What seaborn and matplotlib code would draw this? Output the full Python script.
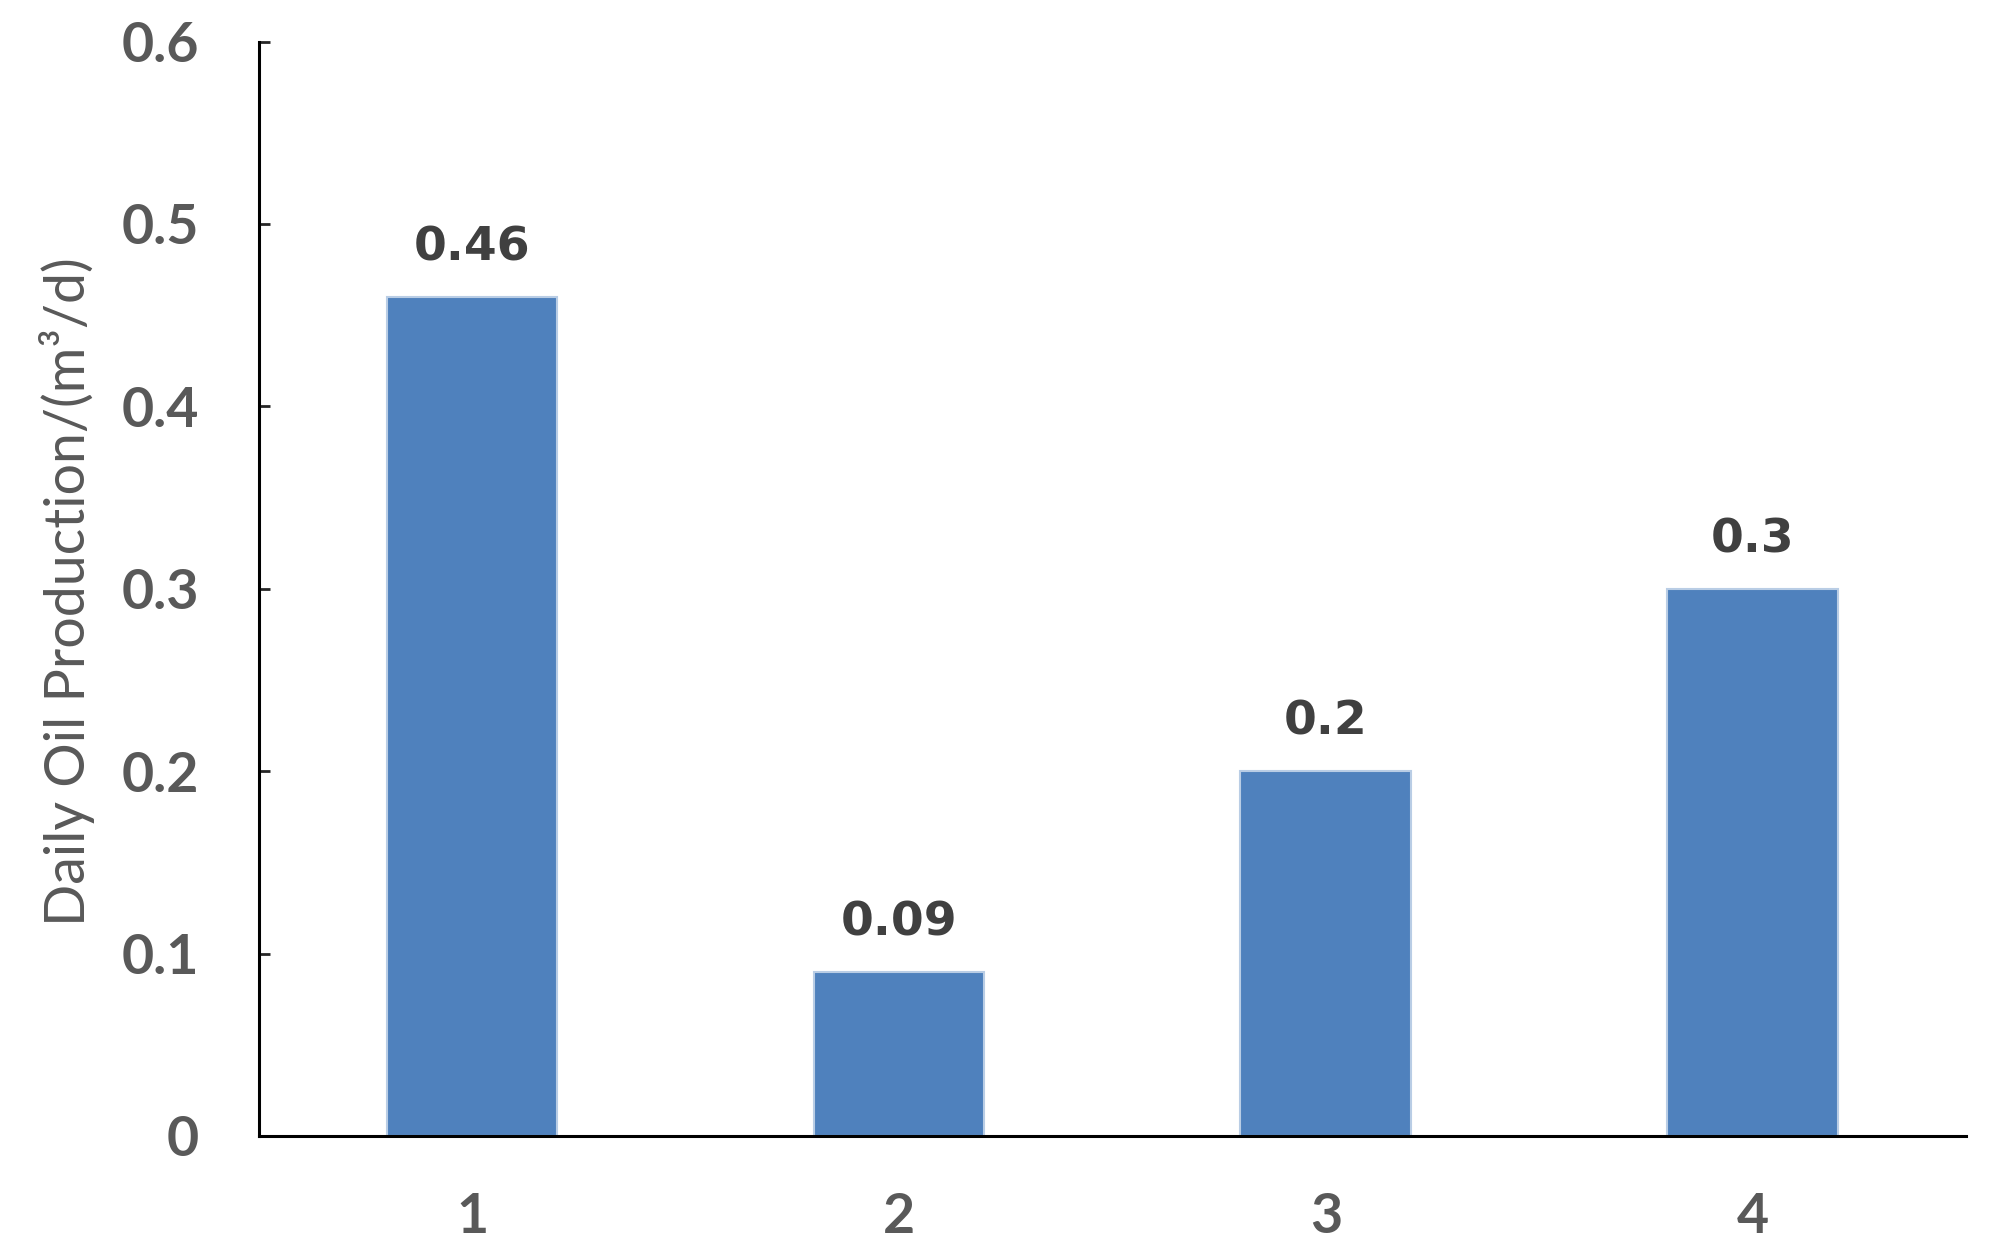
import pandas as pd
import matplotlib.pyplot as plt
import seaborn as sns

# дані з графіка
categories = ['1', '2', '3', '4']
oil_production = [0.46, 0.09, 0.2, 0.3]
value_labels = ['0.46', '0.09', '0.2', '0.3']
y_ticks = [0, 0.1, 0.2, 0.3, 0.4, 0.5, 0.6]
y_tick_labels = ['0', '0.1', '0.2', '0.3', '0.4', '0.5', '0.6']

df = pd.DataFrame({'case': categories, 'oil': oil_production})

sns.set_style('white')
plt.rcParams['font.family'] = ['Lato', 'DejaVu Sans']

fig, ax = plt.subplots(figsize=(19.9, 12.58), dpi=100)
fig.subplots_adjust(left=0.130, right=0.988, bottom=0.097, top=0.967)

sns.barplot(data=df, x='case', y='oil', color='#4F81BD', saturation=1,
            width=0.4, edgecolor='#B9CDE5', linewidth=1.5, ax=ax)

ax.bar_label(ax.containers[0], labels=value_labels, padding=19,
             fontsize=34, fontweight='bold', color='#404040',
             family=['DejaVu Sans'])

ax.set_xlim(-0.5, 3.5)
ax.set_ylim(0, 0.6)
ax.set_yticks(y_ticks)
ax.set_yticklabels(y_tick_labels)

ax.tick_params(axis='y', direction='in', length=8, width=2, pad=43,
               labelsize=40, labelcolor='#595959', left=True)
ax.tick_params(axis='x', length=0, pad=40, labelsize=40, labelcolor='#595959')
for lbl in ax.get_xticklabels() + ax.get_yticklabels():
    lbl.set_fontweight('bold')

ax.set_xlabel('')
ax.set_ylabel('Daily Oil Production/(m³/d)', fontsize=40, color='#595959')
ax.yaxis.set_label_coords(-0.096, 0.497)

for side in ['top', 'right']:
    ax.spines[side].set_visible(False)
for side in ['left', 'bottom']:
    ax.spines[side].set_color('black')
    ax.spines[side].set_linewidth(2.2)

plt.savefig('out.png', dpi=100)
